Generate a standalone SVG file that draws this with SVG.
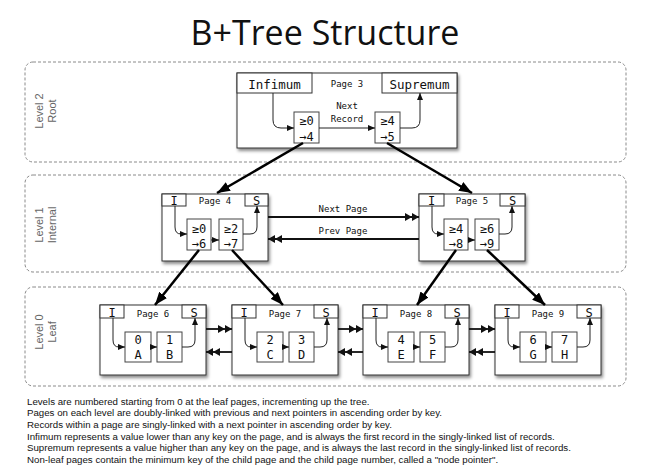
<svg xmlns="http://www.w3.org/2000/svg" width="649" height="472" viewBox="0 0 649 472">
<style>
.bg{fill:#ffffff}
.title{font-family:"Open Sans","DejaVu Sans",sans-serif;font-size:34px;fill:#111;text-anchor:middle}
.level{fill:none;stroke:#8a8a8a;stroke-width:1;stroke-dasharray:3,2}
.lvl{font-family:"Liberation Sans",Arial,sans-serif;font-size:11px;fill:#666;text-anchor:middle}
.page{fill:#fff;stroke:#333;stroke-width:1;filter:url(#shadow)}
.hdr{fill:#fff;stroke:#333;stroke-width:1}
.rec{fill:#fff;stroke:#444;stroke-width:1}
.mono{font-family:"DejaVu Sans Mono","Liberation Mono",monospace;fill:#111;text-anchor:middle}
.big{font-size:12.5px}
.sm{font-size:9px}
.rt{font-size:12px}
.thin{fill:none;stroke:#222;stroke-width:1;marker-end:url(#ah)}
.thick{fill:none;stroke:#000;stroke-width:2.5;marker-end:url(#abig)}
.link{fill:none;stroke:#111;stroke-width:1.8;marker-end:url(#adbl)}
.note{font-family:"Liberation Sans",Arial,sans-serif;font-size:9.7px;fill:#111}
</style>
<defs>
<filter id="shadow" x="-10%" y="-10%" width="125%" height="130%">
<feDropShadow dx="1.5" dy="2.5" stdDeviation="1.8" flood-color="#000" flood-opacity="0.45"/>
</filter>
<marker id="ah" markerUnits="userSpaceOnUse" markerWidth="7" markerHeight="6" refX="7" refY="3" orient="auto">
<path d="M0,0 L7,3 L0,6 z" fill="#111"/>
</marker>
<marker id="abig" markerUnits="userSpaceOnUse" markerWidth="13" markerHeight="10" refX="13" refY="5" orient="auto">
<path d="M0,0 L13,5 L0,10 z" fill="#000"/>
</marker>
<marker id="adbl" markerUnits="userSpaceOnUse" markerWidth="14" markerHeight="8" refX="14" refY="4" orient="auto">
<path d="M0,0 L7,4 L0,8 z M7,0 L14,4 L7,8 z" fill="#111"/>
</marker>
</defs>
<rect class="bg" x="0" y="0" width="649" height="472"/>
<text class="title" x="325" y="45">B+Tree Structure</text>

<g id="levels">
<rect class="level" x="25" y="62" width="601" height="100" rx="8"/>
<rect class="level" x="25" y="175" width="601" height="97" rx="8"/>
<rect class="level" x="25" y="287" width="601" height="99" rx="8"/>
<text class="lvl" transform="translate(43,111) rotate(-90)">Level 2</text>
<text class="lvl" transform="translate(56,111) rotate(-90)">Root</text>
<text class="lvl" transform="translate(43,225) rotate(-90)">Level 1</text>
<text class="lvl" transform="translate(56,225) rotate(-90)">Internal</text>
<text class="lvl" transform="translate(43,332) rotate(-90)">Level 0</text>
<text class="lvl" transform="translate(56,332) rotate(-90)">Leaf</text>
</g>

<g id="page3">
<rect class="page" x="237" y="73" width="220" height="75"/>
<rect class="hdr" x="237" y="73" width="75" height="20"/>
<rect class="hdr" x="382" y="73" width="75" height="20"/>
<text class="mono big" x="274.5" y="88.5">Infimum</text>
<text class="mono big" x="419.5" y="88.5">Supremum</text>
<text class="mono sm" x="347" y="87">Page 3</text>
<rect class="rec" x="294" y="112" width="25" height="31"/>
<rect class="rec" x="375" y="112" width="25" height="31"/>
<text class="mono rt" x="306.5" y="125">≥0</text>
<text class="mono rt" x="306.5" y="141">→4</text>
<text class="mono rt" x="387.5" y="125">≥4</text>
<text class="mono rt" x="387.5" y="141">→5</text>
<text class="mono sm" x="347" y="109">Next</text>
<text class="mono sm" x="347" y="122">Record</text>
<path class="thin" d="M273,93 V120 Q273,128 281,128 H294"/>
<path class="thin" d="M319,128 H375"/>
<path class="thin" d="M400,128 H412 Q420,128 420,120 V93"/>
</g>

<g id="page4">
<rect class="page" x="162" y="194" width="106" height="67"/>
<rect class="hdr" x="162" y="194" width="24" height="12"/>
<rect class="hdr" x="245" y="194" width="23" height="12"/>
<text class="mono rt" x="174" y="205">I</text>
<text class="mono rt" x="256.5" y="205">S</text>
<text class="mono sm" x="215" y="204">Page 4</text>
<rect class="rec" x="187" y="219" width="24" height="31"/>
<rect class="rec" x="219" y="219" width="24" height="31"/>
<text class="mono rt" x="199" y="232.5">≥0</text>
<text class="mono rt" x="199" y="248">→6</text>
<text class="mono rt" x="231" y="232.5">≥2</text>
<text class="mono rt" x="231" y="248">→7</text>
<path class="thin" d="M175,206 V227 Q175,234 181,234 H187"/>
<path class="thin" d="M211,240 H219"/>
<path class="thin" d="M243,234 H250 Q257,234 257,227 V206"/>
</g>

<g id="page5">
<rect class="page" x="419" y="194" width="106" height="67"/>
<rect class="hdr" x="419" y="194" width="25" height="12"/>
<rect class="hdr" x="500" y="194" width="25" height="12"/>
<text class="mono rt" x="431.5" y="205">I</text>
<text class="mono rt" x="512.5" y="205">S</text>
<text class="mono sm" x="472" y="204">Page 5</text>
<rect class="rec" x="444" y="219" width="24" height="31"/>
<rect class="rec" x="475" y="219" width="24" height="31"/>
<text class="mono rt" x="456" y="232.5">≥4</text>
<text class="mono rt" x="456" y="248">→8</text>
<text class="mono rt" x="487" y="232.5">≥6</text>
<text class="mono rt" x="487" y="248">→9</text>
<path class="thin" d="M432,206 V227 Q432,234 438,234 H444"/>
<path class="thin" d="M468,240 H475"/>
<path class="thin" d="M499,234 H505 Q512,234 512,227 V206"/>
</g>

<g id="page6">
<rect class="page" x="100" y="305" width="106" height="70"/>
<rect class="hdr" x="100" y="305" width="24" height="13"/>
<rect class="hdr" x="182" y="305" width="24" height="13"/>
<text class="mono rt" x="112" y="316.5">I</text>
<text class="mono rt" x="194" y="316.5">S</text>
<text class="mono sm" x="153" y="317">Page 6</text>
<rect class="rec" x="125" y="332" width="26" height="30"/>
<rect class="rec" x="157" y="332" width="25" height="30"/>
<text class="mono rt" x="138" y="344">0</text>
<text class="mono rt" x="138" y="359">A</text>
<text class="mono rt" x="169.5" y="344">1</text>
<text class="mono rt" x="169.5" y="359">B</text>
<path class="thin" d="M113,318 V340 Q113,347 119,347 H125"/>
<path class="thin" d="M151,347 H157"/>
<path class="thin" d="M182,347 H188 Q195,347 195,340 V318"/>
</g>

<g id="page7">
<rect class="page" x="232" y="305" width="106" height="70"/>
<rect class="hdr" x="232" y="305" width="24" height="13"/>
<rect class="hdr" x="314" y="305" width="24" height="13"/>
<text class="mono rt" x="244" y="316.5">I</text>
<text class="mono rt" x="326" y="316.5">S</text>
<text class="mono sm" x="285" y="317">Page 7</text>
<rect class="rec" x="257" y="332" width="26" height="30"/>
<rect class="rec" x="289" y="332" width="25" height="30"/>
<text class="mono rt" x="270" y="344">2</text>
<text class="mono rt" x="270" y="359">C</text>
<text class="mono rt" x="301.5" y="344">3</text>
<text class="mono rt" x="301.5" y="359">D</text>
<path class="thin" d="M245,318 V340 Q245,347 251,347 H257"/>
<path class="thin" d="M283,347 H289"/>
<path class="thin" d="M314,347 H320 Q327,347 327,340 V318"/>
</g>

<g id="page8">
<rect class="page" x="363" y="305" width="106" height="70"/>
<rect class="hdr" x="363" y="305" width="24" height="13"/>
<rect class="hdr" x="445" y="305" width="24" height="13"/>
<text class="mono rt" x="375" y="316.5">I</text>
<text class="mono rt" x="457" y="316.5">S</text>
<text class="mono sm" x="416" y="317">Page 8</text>
<rect class="rec" x="388" y="332" width="26" height="30"/>
<rect class="rec" x="420" y="332" width="25" height="30"/>
<text class="mono rt" x="401" y="344">4</text>
<text class="mono rt" x="401" y="359">E</text>
<text class="mono rt" x="432.5" y="344">5</text>
<text class="mono rt" x="432.5" y="359">F</text>
<path class="thin" d="M376,318 V340 Q376,347 382,347 H388"/>
<path class="thin" d="M414,347 H420"/>
<path class="thin" d="M445,347 H451 Q458,347 458,340 V318"/>
</g>

<g id="page9">
<rect class="page" x="495" y="305" width="106" height="70"/>
<rect class="hdr" x="495" y="305" width="24" height="13"/>
<rect class="hdr" x="577" y="305" width="24" height="13"/>
<text class="mono rt" x="507" y="316.5">I</text>
<text class="mono rt" x="589" y="316.5">S</text>
<text class="mono sm" x="548" y="317">Page 9</text>
<rect class="rec" x="520" y="332" width="26" height="30"/>
<rect class="rec" x="552" y="332" width="25" height="30"/>
<text class="mono rt" x="533" y="344">6</text>
<text class="mono rt" x="533" y="359">G</text>
<text class="mono rt" x="564.5" y="344">7</text>
<text class="mono rt" x="564.5" y="359">H</text>
<path class="thin" d="M508,318 V340 Q508,347 514,347 H520"/>
<path class="thin" d="M546,347 H552"/>
<path class="thin" d="M577,347 H583 Q590,347 590,340 V318"/>
</g>

<g id="connectors">
<path class="thick" d="M303,143 L217,193"/>
<path class="thick" d="M387,143 L472,193"/>
<path class="thick" d="M199,250 L155,305"/>
<path class="thick" d="M232,250 L283,305"/>
<path class="thick" d="M456,250 L417,305"/>
<path class="thick" d="M487,250 L545,305"/>
<path class="link" d="M268,217 H419"/>
<path class="link" d="M419,239 H268"/>
<text class="mono sm" x="343" y="212">Next Page</text>
<text class="mono sm" x="343" y="234">Prev Page</text>
<path class="link" d="M206,329 H232"/>
<path class="link" d="M232,352 H206"/>
<path class="link" d="M338,329 H363"/>
<path class="link" d="M363,352 H338"/>
<path class="link" d="M469,329 H495"/>
<path class="link" d="M495,352 H469"/>
</g>

<g id="notes">
<text class="note" x="27" y="404.5">Levels are numbered starting from 0 at the leaf pages, incrementing up the tree.</text>
<text class="note" x="27" y="416">Pages on each level are doubly-linked with previous and next pointers in ascending order by key.</text>
<text class="note" x="27" y="427.5">Records within a page are singly-linked with a next pointer in ascending order by key.</text>
<text class="note" x="27" y="439.5">Infimum represents a value lower than any key on the page, and is always the first record in the singly-linked list of records.</text>
<text class="note" x="27" y="451">Supremum represents a value higher than any key on the page, and is always the last record in the singly-linked list of records.</text>
<text class="note" x="27" y="462.5">Non-leaf pages contain the minimum key of the child page and the child page number, called a "node pointer".</text>
</g>
</svg>
